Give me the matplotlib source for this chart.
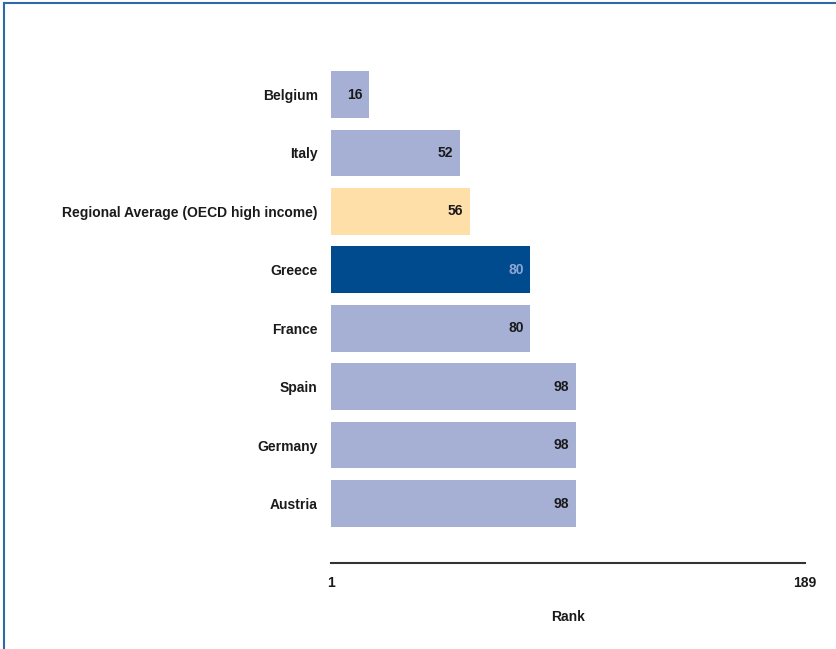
import matplotlib.pyplot as plt
from matplotlib.lines import Line2D

# data
countries = ['Belgium', 'Italy', 'Regional Average (OECD high income)', 'Greece',
             'France', 'Spain', 'Germany', 'Austria']
ranks = [16, 52, 56, 80, 80, 98, 98, 98]
rank_min = 1
rank_max = 189

light = '#a5b0d4'
colors = [light, light, '#ffdfa8', '#004b8d', light, light, light, light]
label_colors = ['#1a1a1a', '#1a1a1a', '#1a1a1a', '#8fa6d4', '#1a1a1a', '#1a1a1a', '#1a1a1a', '#1a1a1a']

plt.rcParams['font.family'] = ['Liberation Sans', 'DejaVu Sans']

fig = plt.figure(figsize=(8.36, 6.49), dpi=100)
ax = fig.add_axes([331/836, 1 - 563/649, (805 - 331)/836, (563 - 59.5)/649])

pos = list(range(len(countries)))
widths = [r - rank_min for r in ranks]
ax.barh(pos, widths, left=rank_min, height=0.8, color=colors)

# value labels inside the bars
for i, r in enumerate(ranks):
    ax.text(r - 2.6, i, str(r), ha='right', va='center', fontsize=10,
            fontweight='bold', color=label_colors[i])

ax.set_xlim(rank_min, rank_max)
ax.set_ylim(8.018, -0.6)
ax.set_yticks(pos)
ax.set_yticklabels(countries, fontsize=10, fontweight='bold', color='#1a1a1a')
ax.set_xticks([rank_min, rank_max])
ax.set_xticklabels([str(rank_min), str(rank_max)], fontsize=10, fontweight='bold', color='#1a1a1a')
ax.tick_params(axis='y', length=0, pad=9.5)
ax.tick_params(axis='x', length=0, pad=9.5)

for s in ['top', 'right', 'left']:
    ax.spines[s].set_visible(False)
ax.spines['bottom'].set_color('#333333')
ax.spines['bottom'].set_linewidth(1.5)

ax.set_xlabel('Rank', fontsize=10, fontweight='bold', color='#1a1a1a', labelpad=14)

# blue frame on top and left
fig.add_artist(Line2D([4/836, 4/836], [0, 1 - 3/649], transform=fig.transFigure,
                      color='#2f6aa8', linewidth=1.5))
fig.add_artist(Line2D([4/836, 1], [1 - 3/649, 1 - 3/649], transform=fig.transFigure,
                      color='#2f6aa8', linewidth=1.5))

fig.savefig('out.png', dpi=100)
